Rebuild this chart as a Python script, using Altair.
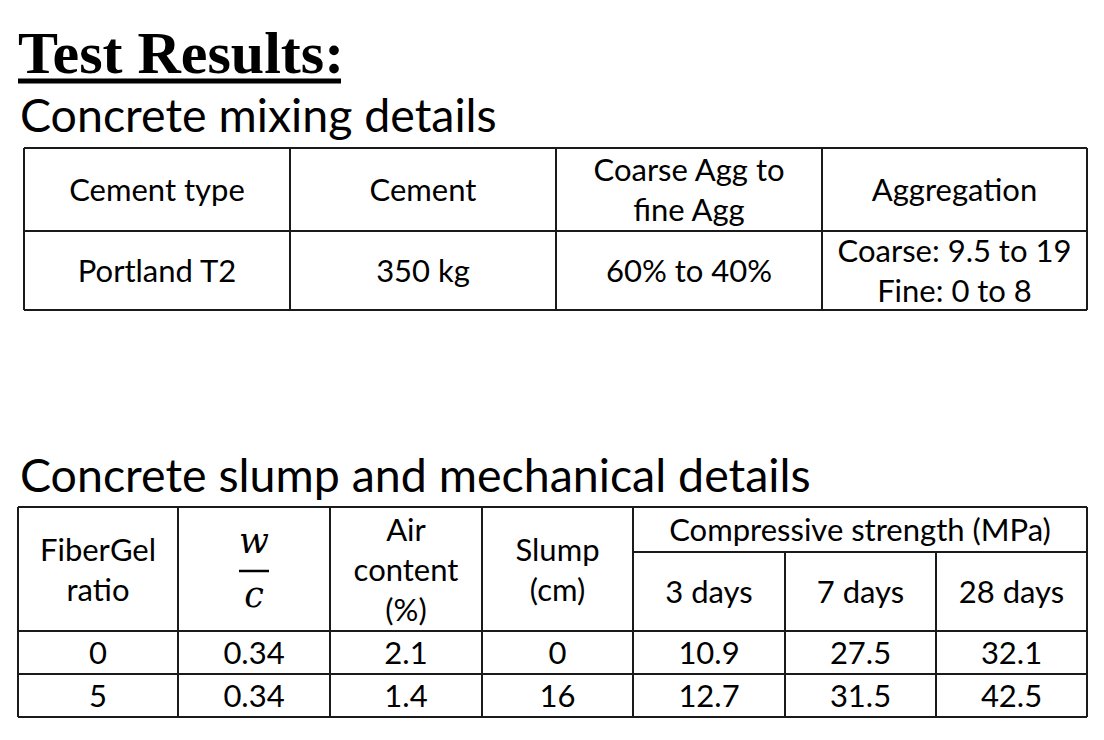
import altair as alt
import pandas as pd

# ---------------- data ----------------
page_title = "Test Results:"
section_mix = "Concrete mixing details"
section_mech = "Concrete slump and mechanical details"

mix_headers = ["Cement type", "Cement", "Coarse Agg to\nfine Agg", "Aggregation"]
mix_values = ["Portland T2", "350 kg", "60% to 40%", "Coarse: 9.5 to 19\nFine: 0 to 8"]

mech_headers = ["FiberGel\nratio", "", "Air\ncontent\n(%)", "Slump\n(cm)"]
wc_num, wc_den = "w", "c"
strength_header = "Compressive strength (MPa)"
ages = ["3 days", "7 days", "28 days"]

fibergel_ratio = [0, 5]
w_c = [0.34, 0.34]
air_content = [2.1, 1.4]
slump_cm = [0, 16]
strength_3d = [10.9, 12.7]
strength_7d = [27.5, 31.5]
strength_28d = [32.1, 42.5]

# ---------------- layout (pixel grid of the page) ----------------
T1_X = [24, 290, 556, 822, 1087]
T1_Y = [148, 231, 310]
T2_X = [18, 178, 330, 482, 633, 785, 936, 1087]
T2_Y = [507, 552, 631, 674, 717]
LINE_GAP = 40
BASE_OFF = 11.5
FONT = "Lato"
FS = 31

texts = []


def cell_text(label, x0, x1, y0, y1):
    lines = str(label).split("\n")
    n = len(lines)
    cx = (x0 + x1) / 2
    cy = (y0 + y1) / 2
    for i, ln in enumerate(lines):
        if ln == "":
            continue
        texts.append({"t": ln, "x": cx, "y": cy + BASE_OFF + (i - (n - 1) / 2) * LINE_GAP})


# table 1
for j, h in enumerate(mix_headers):
    cell_text(h, T1_X[j], T1_X[j + 1], T1_Y[0], T1_Y[1])
for j, v in enumerate(mix_values):
    cell_text(v, T1_X[j], T1_X[j + 1], T1_Y[1], T1_Y[2])

# table 2 headers
for j, h in enumerate(mech_headers):
    cell_text(h, T2_X[j], T2_X[j + 1], T2_Y[0], T2_Y[2])
cell_text(strength_header, T2_X[4], T2_X[7], T2_Y[0], T2_Y[1])
for j, a in enumerate(ages):
    cell_text(a, T2_X[4 + j], T2_X[5 + j], T2_Y[1], T2_Y[2])

cols = [fibergel_ratio, w_c, air_content, slump_cm, strength_3d, strength_7d, strength_28d]
for r in range(2):
    for j, col in enumerate(cols):
        cell_text(col[r], T2_X[j], T2_X[j + 1], T2_Y[2 + r], T2_Y[3 + r])

text_df = pd.DataFrame(texts)

# grid lines
segs = []
for y in T1_Y:
    segs.append({"x": T1_X[0], "x2": T1_X[-1], "y": y, "y2": y})
for x in T1_X:
    segs.append({"x": x, "x2": x, "y": T1_Y[0], "y2": T1_Y[-1]})
for y in [T2_Y[0], T2_Y[2], T2_Y[3], T2_Y[4]]:
    segs.append({"x": T2_X[0], "x2": T2_X[-1], "y": y, "y2": y})
segs.append({"x": T2_X[4], "x2": T2_X[-1], "y": T2_Y[1], "y2": T2_Y[1]})
for x in T2_X[:5] + [T2_X[-1]]:
    segs.append({"x": x, "x2": x, "y": T2_Y[0], "y2": T2_Y[-1]})
for x in T2_X[5:7]:
    segs.append({"x": x, "x2": x, "y": T2_Y[1], "y2": T2_Y[-1]})
seg_df = pd.DataFrame(segs)

W, H = 1088, 724
xs = alt.Scale(domain=[8, 8 + W], nice=False, zero=False)
ys = alt.Scale(domain=[8, 8 + H], nice=False, zero=False, reverse=True)
X = lambda f="x": alt.X(f"{f}:Q", scale=xs, axis=None)
Y = lambda f="y": alt.Y(f"{f}:Q", scale=ys, axis=None)

grid = alt.Chart(seg_df).mark_rule(color="#1a1a1a", strokeWidth=2).encode(
    x=X(), x2="x2:Q", y=Y(), y2="y2:Q"
)

cells = alt.Chart(text_df).mark_text(
    font=FONT, fontSize=FS, align="center", baseline="alphabetic", color="#000"
).encode(x=X(), y=Y(), text="t:N")

head_df = pd.DataFrame([
    {"t": page_title, "x": 18, "y": 73},
])
title_mark = alt.Chart(head_df).mark_text(
    font="Liberation Serif", fontWeight="bold", fontSize=60, align="left", baseline="alphabetic", color="#000"
).encode(x=X(), y=Y(), text="t:N")

underline_df = pd.DataFrame([{"x": 18, "x2": 341, "y": 81, "y2": 81}])
underline = alt.Chart(underline_df).mark_rule(color="#000", strokeWidth=5).encode(
    x=X(), x2="x2:Q", y=Y(), y2="y2:Q"
)

sec_df = pd.DataFrame([
    {"t": section_mix, "x": 20, "y": 132},
    {"t": section_mech, "x": 20, "y": 492},
])
sections = alt.Chart(sec_df).mark_text(
    font=FONT, fontSize=46.5, align="left", baseline="alphabetic", color="#000"
).encode(x=X(), y=Y(), text="t:N")

wc_cx = (T2_X[1] + T2_X[2]) / 2
frac_df = pd.DataFrame([
    {"t": wc_num, "x": wc_cx, "y": 553},
    {"t": wc_den, "x": wc_cx, "y": 607},
])
frac = alt.Chart(frac_df).mark_text(
    font="DejaVu Serif", fontStyle="italic", fontSize=35, align="center", baseline="alphabetic", color="#000"
).encode(x=X(), y=Y(), text="t:N")
bar_df = pd.DataFrame([{"x": wc_cx - 15, "x2": wc_cx + 15, "y": 571, "y2": 571}])
frac_bar = alt.Chart(bar_df).mark_rule(color="#000", strokeWidth=2.5).encode(
    x=X(), x2="x2:Q", y=Y(), y2="y2:Q"
)

chart = alt.layer(grid, underline, frac_bar, cells, title_mark, sections, frac).properties(
    width=W, height=H, padding=0, autosize="none", background="white"
).configure_view(stroke=None)

chart.save("out.html", embed_options={"renderer": "svg", "actions": False})
